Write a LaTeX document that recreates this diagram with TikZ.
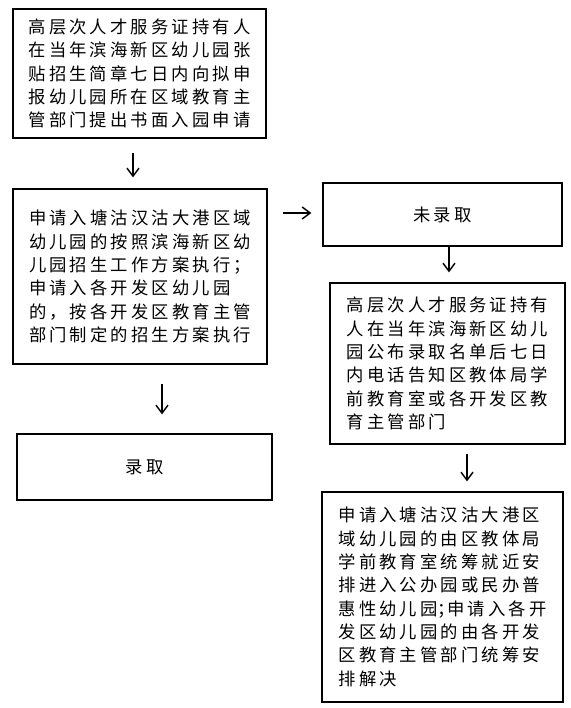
\documentclass[tikz,border=0pt]{standalone}
\usepackage{fontspec}
\newfontfamily\cjk[LetterSpace=18]{Noto Sans CJK SC}
\usetikzlibrary{arrows.meta}
\newlength{\pxu}\setlength{\pxu}{0.75pt}
\begin{document}
\begin{tikzpicture}[x=0.75pt,y=-0.75pt,
  box/.style={draw=black,line width=0.9pt,inner sep=0pt,align=left,
    font=\cjk\fontsize{13pt}{17.5pt}\selectfont},
  arr/.style={-{Straight Barb[length=6pt,width=9pt]},line width=1.1pt}]
\useasboundingbox[fill=white] (0,0) rectangle (571,708);
\node[box,minimum width=253\pxu,minimum height=129\pxu] (b1) at (139.5,73.5)
  {高层次人才服务证持有人\\在当年滨海新区幼儿园张\\贴招生简章七日内向拟申\\报幼儿园所在区域教育主\\管部门提出书面入园申请};
\node[box,minimum width=254\pxu,minimum height=175\pxu] (b2) at (140,276.5)
  {申请入塘沽汉沽大港区域\\幼儿园的按照滨海新区幼\\儿园招生工作方案执行；\\申请入各开发区幼儿园\\的，按各开发区教育主管\\部门制定的招生方案执行};
\node[box,minimum width=239\pxu,minimum height=63\pxu] (b3) at (442.5,214.5) {未录取};
\node[box,minimum width=235\pxu,minimum height=161\pxu] (b4) at (447.5,363.5)
  {高层次人才服务证持有\\人在当年滨海新区幼儿\\园公布录取名单后七日\\内电话告知区教体局学\\前教育室或各开发区教\\育主管部门};
\node[box,minimum width=255\pxu,minimum height=66\pxu] (b5) at (144.5,467) {录取};
\node[box,minimum width=241\pxu,minimum height=210\pxu] (b6) at (442.5,597)
  {申请入塘沽汉沽大港区\\域幼儿园的由区教体局\\学前教育室统筹就近安\\排进入公办园或民办普\\惠性幼儿园\makebox[0.55em][l]{；}申请入各开\\发区幼儿园的由各开发\\区教育主管部门统筹安\\排解决};
\draw[arr] ([xshift=-6.5\pxu,yshift=-14\pxu]b1.south) -- ([xshift=-7\pxu,yshift=11\pxu]b2.north);
\draw[arr] ([xshift=22\pxu,yshift=-19\pxu]b2.south) -- ([xshift=17.5\pxu,yshift=19\pxu]b5.north);
\draw[arr] ([xshift=15\pxu,yshift=63.5\pxu]b2.east) -- ([xshift=-11\pxu,yshift=1.5\pxu]b3.west);
\draw[arr] ([xshift=6.5\pxu]b3.south) -- ([xshift=1.5\pxu,yshift=10\pxu]b4.north);
\draw[arr] ([xshift=19.5\pxu,yshift=-9\pxu]b4.south) -- ([xshift=24.5\pxu,yshift=10\pxu]b6.north);
\end{tikzpicture}
\end{document}
